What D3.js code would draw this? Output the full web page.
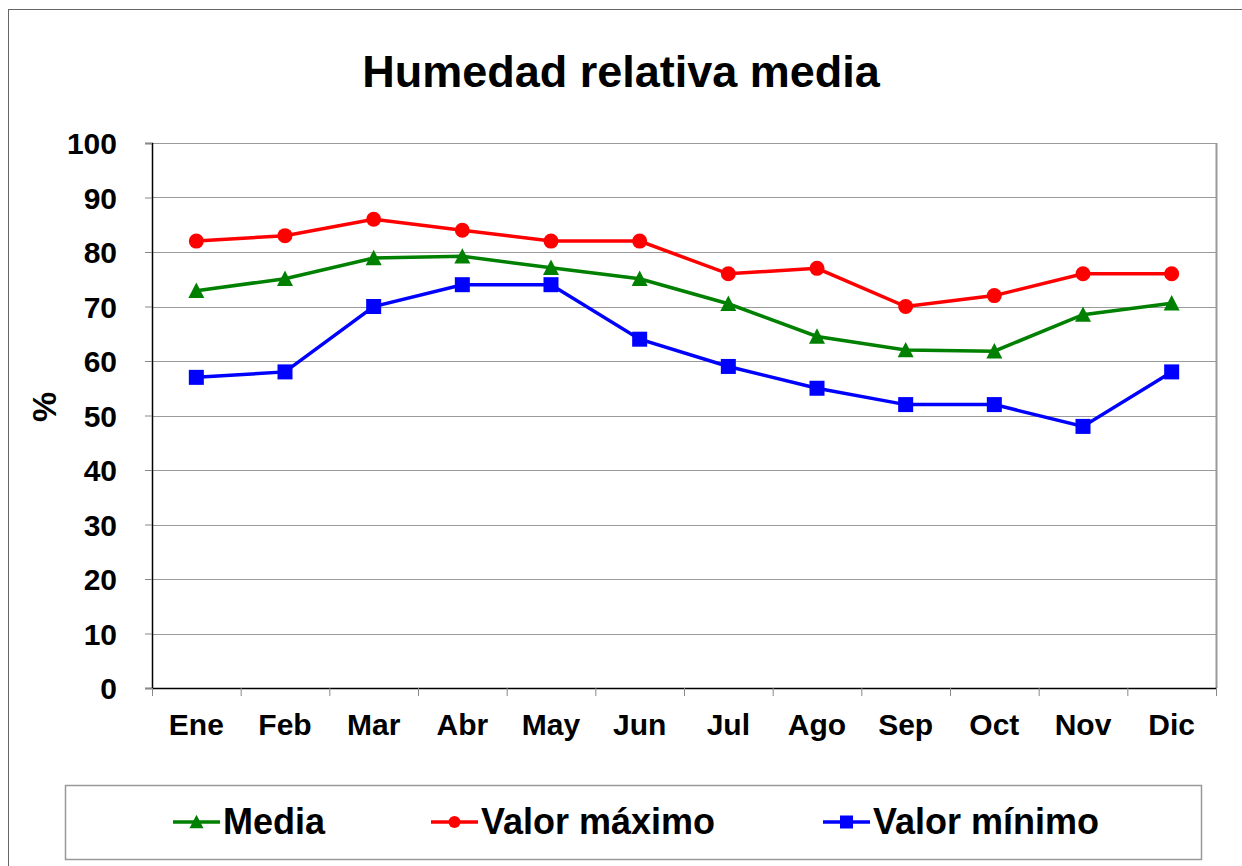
<!DOCTYPE html>
<html>
<head>
<meta charset="utf-8">
<script src="https://cdn.jsdelivr.net/npm/d3@7"></script>
<style>
  body { margin: 0; background: #fff; }
  text { font-family: "Liberation Sans", Arial, sans-serif; font-weight: bold; fill: #000; }
</style>
</head>
<body>
<div id="chart"></div>
<script>
var months = ["Ene", "Feb", "Mar", "Abr", "May", "Jun", "Jul", "Ago", "Sep", "Oct", "Nov", "Dic"];
var media = [72.9, 75.1, 78.9, 79.2, 77.1, 75.1, 70.5, 64.5, 62.0, 61.8, 68.5, 70.6];
var valorMax = [82, 83, 86, 84, 82, 82, 76, 77, 70, 72, 76, 76];
var valorMin = [57, 58, 70, 74, 74, 64, 59, 55, 52, 52, 48, 58];
var yTicks = [0, 10, 20, 30, 40, 50, 60, 70, 80, 90, 100];

var W = 1242, H = 866;
var margin = { top: 143, right: 26, bottom: 178, left: 152 };
var width = W - margin.left - margin.right,
  height = H - margin.top - margin.bottom;

var svg = d3.select("#chart").append("svg")
  .attr("width", W)
  .attr("height", H);

/* outer frame */
svg.append("rect")
  .attr("x", 8.5).attr("y", 9.5)
  .attr("width", 1240).attr("height", 870)
  .attr("fill", "none").attr("stroke", "#666").attr("stroke-width", 1);

svg.append("text")
  .attr("x", 621).attr("y", 87)
  .attr("text-anchor", "middle")
  .style("font-size", "45px")
  .text("Humedad relativa media");

var g = svg.append("g")
  .attr("transform", "translate(" + margin.left + "," + margin.top + ")");

var x = d3.scaleBand().domain(months).range([0, width]);
var y = d3.scaleLinear().domain([0, 100]).range([height, 0]);

/* grid */
g.append("g")
  .selectAll("line")
  .data(yTicks.filter(function(d) { return d > 0; }))
  .enter().append("line")
  .attr("x1", 0).attr("x2", width)
  .attr("y1", function(d) { return Math.round(y(d)) + 0.5; })
  .attr("y2", function(d) { return Math.round(y(d)) + 0.5; })
  .attr("stroke", "#9a9a9a").attr("stroke-width", 1);

g.append("line")
  .attr("x1", width + 0.5).attr("x2", width + 0.5)
  .attr("y1", 0).attr("y2", height)
  .attr("stroke", "#9a9a9a").attr("stroke-width", 2);

/* y axis */
var yAxis = g.append("g")
  .call(d3.axisLeft(y).tickValues(yTicks).tickSize(7).tickPadding(28));
yAxis.select(".domain").attr("stroke", "#000").attr("stroke-width", 1.5);
yAxis.selectAll(".tick line").attr("stroke", "#888");
yAxis.selectAll("text").style("font-size", "30px").attr("dy", "0.36em")
  .style("font-family", "'Liberation Sans', Arial, sans-serif");

/* x axis */
var xAxis = g.append("g")
  .attr("transform", "translate(0," + height + ")")
  .call(d3.axisBottom(x).tickSize(0).tickPadding(26));
xAxis.select(".domain").attr("stroke", "#000").attr("stroke-width", 1.5);
xAxis.selectAll("text").style("font-size", "30px")
  .style("font-family", "'Liberation Sans', Arial, sans-serif");
g.append("g")
  .selectAll("line")
  .data(d3.range(months.length + 1))
  .enter().append("line")
  .attr("x1", function(i) { return i * x.bandwidth() + 0.5; })
  .attr("x2", function(i) { return i * x.bandwidth() + 0.5; })
  .attr("y1", height).attr("y2", height + 8)
  .attr("stroke", "#888");

svg.append("text")
  .attr("transform", "translate(56,407) rotate(-90)")
  .attr("text-anchor", "middle")
  .style("font-size", "34px")
  .text("%");

var cx = function(i) { return x(months[i]) + x.bandwidth() / 2; };
var line = d3.line()
  .x(function(d, i) { return cx(i); })
  .y(function(d) { return y(d); });

var series = [
  { name: "Media", values: media, color: "#008000", shape: "triangle" },
  { name: "Valor máximo", values: valorMax, color: "#ff0000", shape: "circle" },
  { name: "Valor mínimo", values: valorMin, color: "#0000ff", shape: "square" }
];

function drawMarker(sel, shape, color, s) {
  if (shape == "circle") {
    sel.append("circle").attr("r", s / 2).attr("fill", color);
  } else if (shape == "square") {
    sel.append("rect").attr("x", -s / 2).attr("y", -s / 2)
      .attr("width", s).attr("height", s).attr("fill", color);
  } else {
    var h = s * 0.9;
    sel.append("path")
      .attr("d", "M0," + (-h / 2 - 1) + "L" + (s / 2) + "," + (h / 2) + "L" + (-s / 2) + "," + (h / 2) + "Z")
      .attr("fill", color);
  }
}

var sizes = { circle: 15, square: 15, triangle: 16 };

series.forEach(function(s) {
  g.append("path")
    .datum(s.values)
    .attr("d", line)
    .attr("fill", "none")
    .attr("stroke", s.color)
    .attr("stroke-width", 3.5);
  g.append("g").selectAll("g")
    .data(s.values)
    .enter().append("g")
    .attr("transform", function(d, i) { return "translate(" + cx(i) + "," + y(d) + ")"; })
    .each(function() { drawMarker(d3.select(this), s.shape, s.color, sizes[s.shape]); });
});

/* legend */
svg.append("rect")
  .attr("x", 65.5).attr("y", 785.5)
  .attr("width", 1136).attr("height", 74)
  .attr("fill", "none").attr("stroke", "#999").attr("stroke-width", 1.5);

var legendX = [173, 431, 823];
var legendSizes = { circle: 12, square: 13, triangle: 14 };
series.forEach(function(s, i) {
  var lg = svg.append("g").attr("transform", "translate(" + legendX[i] + ",822)");
  lg.append("line").attr("x1", 0).attr("x2", 47)
    .attr("stroke", s.color).attr("stroke-width", 3.5);
  var m = lg.append("g").attr("transform", "translate(23.5,0)");
  drawMarker(m, s.shape, s.color, legendSizes[s.shape]);
  lg.append("text").attr("x", 50).attr("y", 12)
    .style("font-size", "36px")
    .text(s.name);
});
</script>
</body>
</html>
